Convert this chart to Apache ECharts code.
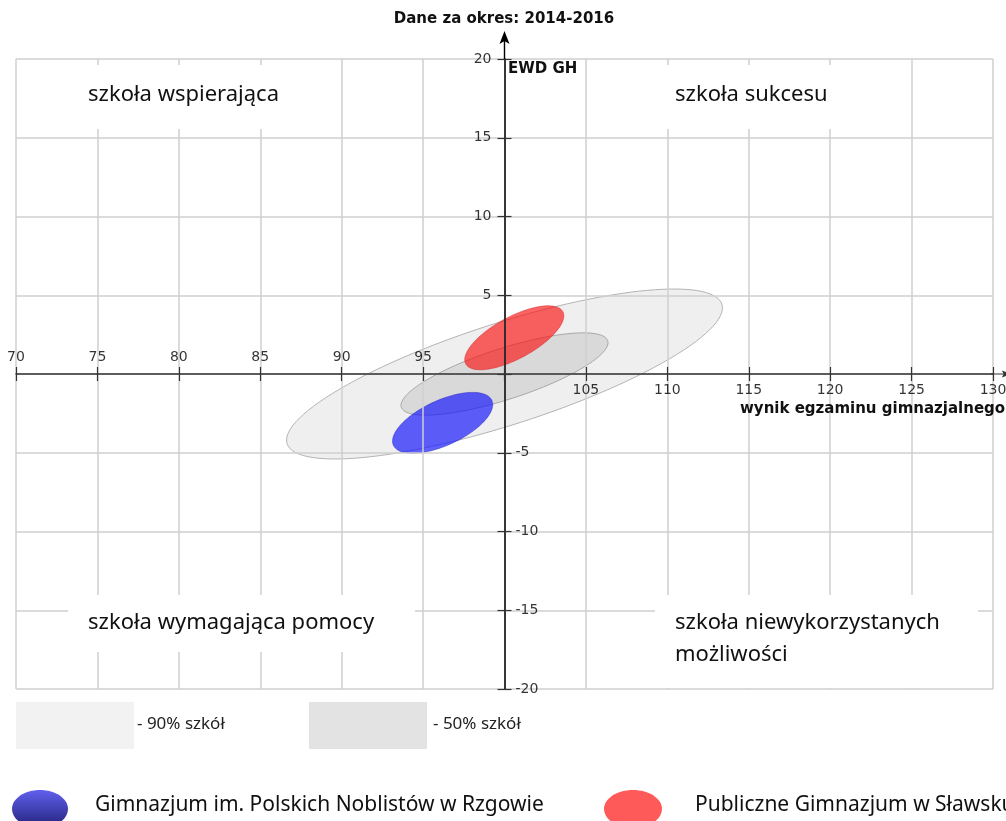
<!DOCTYPE html>
<html>
<head>
<meta charset="utf-8">
<script src="https://cdn.jsdelivr.net/npm/echarts@6/dist/echarts.min.js"></script>
<style>
  html, body { margin: 0; padding: 0; background: #fff; }
  #chart { width: 1006px; height: 821px; }
</style>
</head>
<body>
<div id="chart"></div>
<script>
// --------------------------
// dane
// --------------------------
const xMin = 70, xMax = 130, xStep = 5
const yMin = -20, yMax = 20, yStep = 5
const xCross = 100   // oś EWD przecina oś wyników w punkcie 100

const xTickLabels = [70, 75, 80, 85, 90, 95, 105, 110, 115, 120, 125, 130]
const yTickLabels = [20, 15, 10, 5, -5, -10, -15, -20]

const groupNames = ['90% szkół', '50% szkół', 'Gimnazjum im. Polskich Noblistów w Rzgowie', 'Publiczne Gimnazjum w Sławsku']
// środek elipsy (wynik egzaminu, EWD)
const centerX = [100.0, 100.0, 96.2, 100.6]
const centerY = [0.0, 0.0, -3.1, 2.3]
// koniec dłuższej półosi (przesunięcie od środka)
const majorDX = [13.35, 6.34, 3.02, 2.98]
const majorDY = [4.43, 2.11, 1.43, 1.66]
// koniec krótszej półosi
const minorDX = [0.96, 0.48, 0.58, 0.61]
const minorDY = [-3.08, -1.54, -1.30, -1.17]

const quadrantLabels = ['szkoła wspierająca', 'szkoła sukcesu', 'szkoła wymagająca pomocy', 'szkoła niewykorzystanych\nmożliwości']

// style
const ellipseStyles = [
  { fill: 'rgba(190,190,190,0.25)', stroke: '#b4b4b4' },
  { fill: 'rgba(165,165,165,0.3)', stroke: '#a8a8a8' },
  { fill: 'rgba(20,20,250,0.68)', stroke: 'rgba(40,40,200,0.5)' },
  { fill: 'rgba(250,20,20,0.66)', stroke: 'rgba(210,40,40,0.5)' }
]

const gridLeft = 16, gridRight = 13, gridTop = 59, gridBottom = 132
const tickFont = 'DejaVu Sans'
const labelFont = '"Noto Sans", sans-serif'
const boldFont = 'bold 15px "DejaVu Sans"'

const chart = echarts.init(document.getElementById('chart'))
const halfGrid = (chart.getWidth() - gridLeft - gridRight) / 2

const arrowPath = 'path://M5,0 L10,13 L5,10 L0,13 Z M4.3,10 L5.7,10 L5.7,28 L4.3,28 Z'

const ellipseData = groupNames.map((n, i) => ({
  name: n,
  value: [centerX[i], centerY[i], majorDX[i], majorDY[i], minorDX[i], minorDY[i]]
}))

function renderEllipse(params, api) {
  const cx = api.value(0), cy = api.value(1)
  const ax = api.value(2), ay = api.value(3)
  const bx = api.value(4), by = api.value(5)
  const pts = []
  const n = 120
  for (let k = 0; k < n; k++) {
    const t = k / n * Math.PI * 2
    pts.push(api.coord([cx + Math.cos(t) * ax + Math.sin(t) * bx, cy + Math.cos(t) * ay + Math.sin(t) * by]))
  }
  const s = ellipseStyles[params.dataIndex]
  return { type: 'polygon', shape: { points: pts }, style: { fill: s.fill, stroke: s.stroke, lineWidth: 1 } }
}

const tickLabelStyle = { show: true, color: '#000', fontSize: 14, fontFamily: tickFont }

// etykiety osi X przy osi zerowej: nad osią do 95, pod osią od 105
const xLabelData = xTickLabels.map(v => ({
  value: [v, 0],
  label: { position: v < xCross ? 'top' : 'bottom', distance: v < xCross ? 10 : 9 }
}))
// etykiety osi Y przy x = 100: dodatnie z lewej, ujemne z prawej
const yLabelData = yTickLabels.map(v => ({
  value: [xCross, v],
  label: { position: v > 0 ? 'left' : 'right', distance: v > 0 ? 13 : 11 }
}))

const g = []
// tytuł i nazwy osi
g.push({ type: 'text', z: 5, style: { text: 'Dane za okres: 2014-2016', x: 504, y: 19, align: 'center', verticalAlign: 'middle', font: boldFont, fill: '#111' } })
g.push({ type: 'text', z: 5, style: { text: 'EWD GH', x: 508, y: 69, verticalAlign: 'middle', font: boldFont, fill: '#111' } })
g.push({ type: 'text', z: 5, style: { text: 'wynik egzaminu gimnazjalnego', x: 740, y: 409, verticalAlign: 'middle', font: boldFont, fill: '#111' } })

// opisy ćwiartek na białym tle
const quadBoxes = [[68, 65, 250, 64], [655, 65, 220, 64], [68, 595, 347, 57], [655, 595, 323, 93]]
const quadTextY = [95, 95, 623, 623]
quadBoxes.forEach((b, i) => {
  g.push({ type: 'rect', z: 5, shape: { x: b[0], y: b[1], width: b[2], height: b[3] }, style: { fill: '#fff' } })
  g.push({ type: 'text', z: 6, style: { text: quadrantLabels[i], x: b[0] + 20, y: quadTextY[i] - 16, verticalAlign: 'top', font: '22px ' + labelFont, fill: '#111', lineHeight: 32 } })
})

// legenda: obszary szkół
g.push({ type: 'rect', z: 5, shape: { x: 16, y: 702, width: 118, height: 47 }, style: { fill: '#f2f2f2' } })
g.push({ type: 'text', z: 5, style: { text: '- ' + groupNames[0], x: 137, y: 724, verticalAlign: 'middle', font: '17px ' + labelFont, fill: '#222' } })
g.push({ type: 'rect', z: 5, shape: { x: 309, y: 702, width: 118, height: 47 }, style: { fill: '#e3e3e3' } })
g.push({ type: 'text', z: 5, style: { text: '- ' + groupNames[1], x: 433, y: 724, verticalAlign: 'middle', font: '17px ' + labelFont, fill: '#222' } })

// legenda: szkoły
g.push({ type: 'ellipse', z: 5, shape: { cx: 40, cy: 809, rx: 28, ry: 19 },
  style: { fill: new echarts.graphic.LinearGradient(0, 0, 0, 1, [{ offset: 0, color: '#6060ee' }, { offset: 1, color: '#22227a' }]) } })
g.push({ type: 'text', z: 5, style: { text: groupNames[2], x: 95, y: 805, verticalAlign: 'middle', font: '21px ' + labelFont, fill: '#111' } })
g.push({ type: 'ellipse', z: 5, shape: { cx: 633, cy: 809, rx: 29, ry: 19 }, style: { fill: '#fe5a5a' } })
g.push({ type: 'text', z: 5, style: { text: groupNames[3], x: 695, y: 805, verticalAlign: 'middle', font: '21px ' + labelFont, fill: '#111' } })

const noLabel = { show: false }

chart.setOption({
  backgroundColor: '#fff',
  animation: false,
  grid: { left: gridLeft, right: gridRight, top: gridTop, bottom: gridBottom, containLabel: false, outerBoundsMode: 'none' },
  xAxis: [
    {
      type: 'value', min: xMin, max: xMax, interval: xStep, z: 3, position: 'top',
      axisLine: { onZero: true, symbol: ['none', arrowPath], symbolSize: [10, 20], symbolOffset: [0, 8], lineStyle: { color: '#333', width: 1.5 } },
      axisTick: { show: true, length: 7, lineStyle: { color: '#333', width: 1.2 } },
      axisLabel: noLabel,
      splitLine: { show: true, lineStyle: { color: '#cfcfcf', width: 1.5 } }
    },
    {
      type: 'value', min: xMin, max: xMax, interval: xStep, z: 3, position: 'bottom',
      axisLine: { onZero: true, show: false },
      axisTick: { show: true, length: 7, lineStyle: { color: '#333', width: 1.2 } },
      axisLabel: noLabel,
      splitLine: { show: false }
    }
  ],
  yAxis: [
    {
      type: 'value', min: yMin, max: yMax, interval: yStep, z: 3, position: 'left', offset: -halfGrid,
      axisLine: { onZero: false, symbol: ['none', arrowPath], symbolSize: [10, 28], symbolOffset: [0, 14], lineStyle: { color: '#000', width: 1.5 } },
      axisTick: { show: true, length: 7, lineStyle: { color: '#333', width: 1.2 } },
      axisLabel: noLabel,
      splitLine: { show: true, lineStyle: { color: '#cfcfcf', width: 1.5 } }
    },
    {
      type: 'value', min: yMin, max: yMax, interval: yStep, z: 3, position: 'right', offset: -halfGrid,
      axisLine: { onZero: false, show: false },
      axisTick: { show: true, length: 7, lineStyle: { color: '#333', width: 1.2 } },
      axisLabel: noLabel,
      splitLine: { show: false }
    }
  ],
  graphic: g,
  series: [
    {
      type: 'custom',
      z: 1,
      renderItem: renderEllipse,
      data: ellipseData,
      silent: true
    },
    {
      type: 'scatter',
      z: 4,
      symbolSize: 0,
      silent: true,
      label: Object.assign({}, tickLabelStyle, { formatter: p => String(p.value[0]) }),
      data: xLabelData
    },
    {
      type: 'scatter',
      z: 4,
      symbolSize: 0,
      silent: true,
      label: Object.assign({}, tickLabelStyle, { formatter: p => String(p.value[1]) }),
      data: yLabelData
    }
  ]
})
</script>
</body>
</html>
